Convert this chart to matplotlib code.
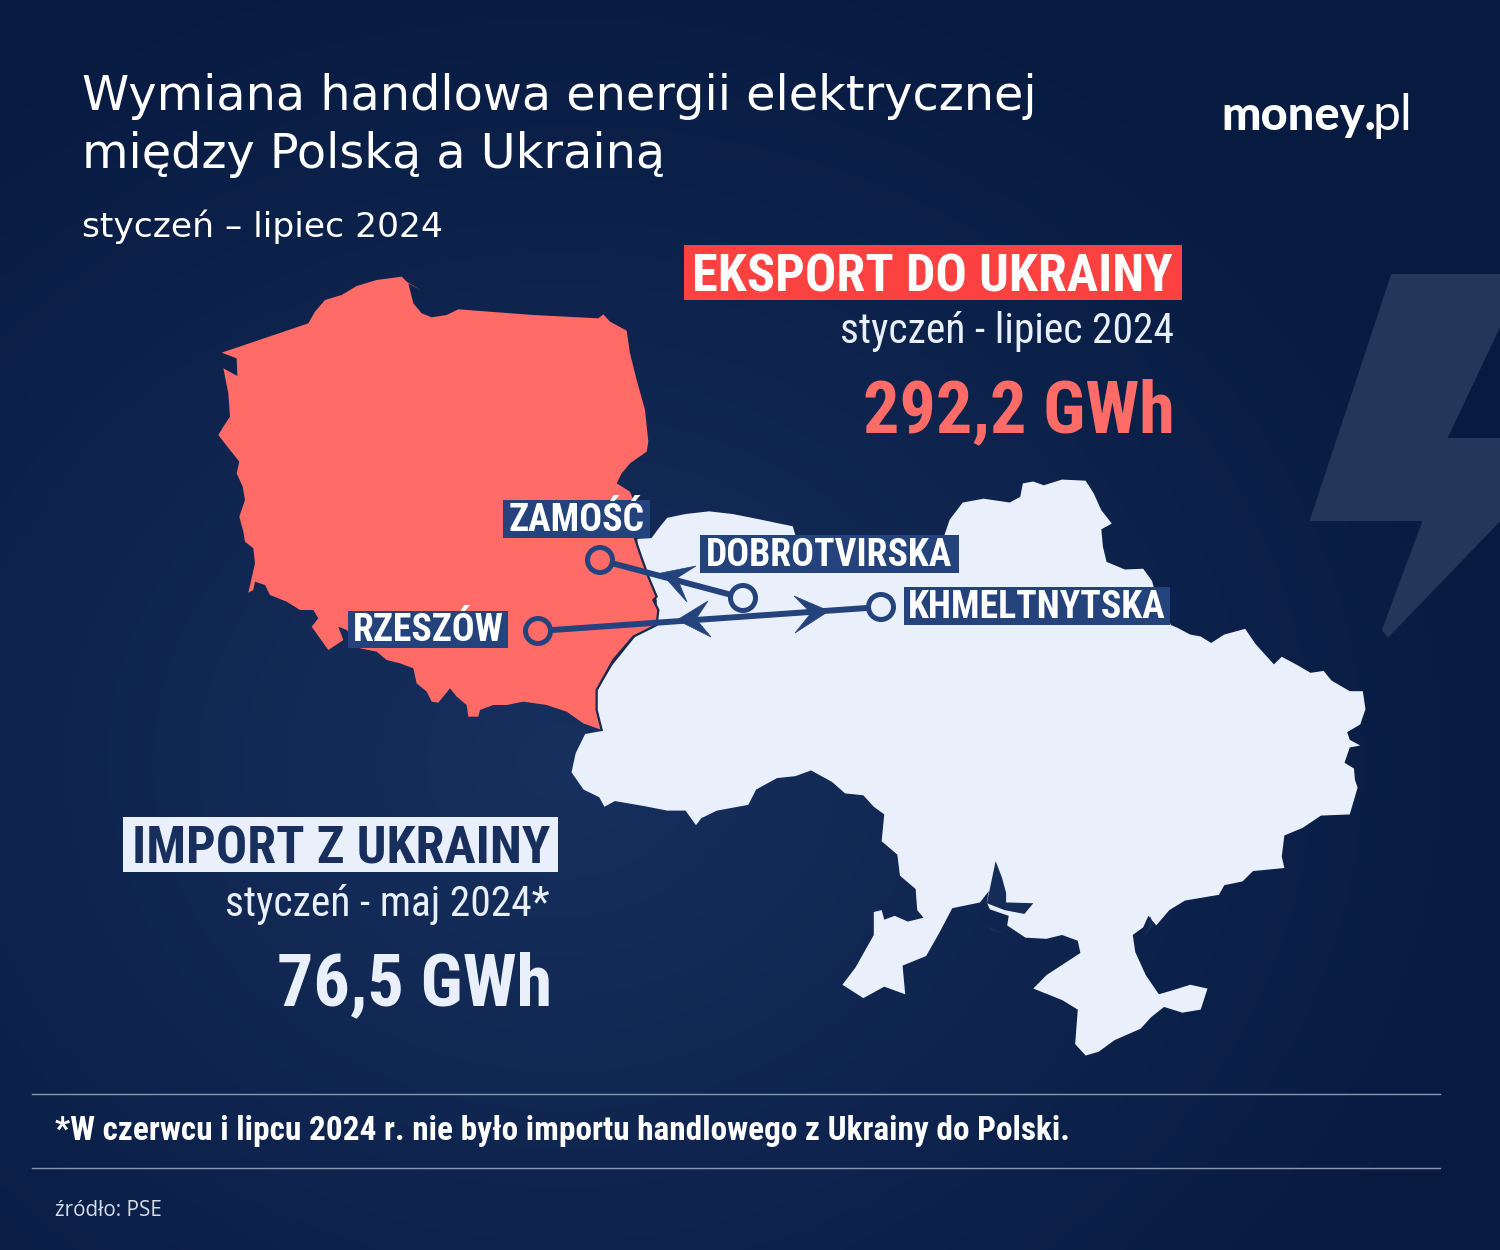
"""Polish-Ukrainian electricity trade infographic, money.pl style.

    python plot.py
"""

import numpy as np
import matplotlib
matplotlib.use("Agg")
import matplotlib.pyplot as plt
from matplotlib import font_manager
from matplotlib.patches import Circle, Polygon, Rectangle

poland_crop = [
    (65, 278), (325, 190), (345, 155), (375, 120), (425, 105), (470, 78), (530, 60), (605, 50),
    (620, 65), (665, 92), (625, 70), (640, 130), (665, 160), (695, 172), (740, 165), (775, 148),
    (1000, 165), (1195, 175), (1210, 163), (1230, 185), (1280, 212), (1290, 280), (1310, 360),
    (1335, 450), (1345, 545), (1340, 575), (1290, 610), (1265, 640), (1250, 670), (1290, 695),
    (1300, 720), (1305, 835), (1320, 880), (1345, 950), (1370, 1010), (1360, 1020), (1375, 1050),
    (1370, 1095), (1300, 1130), (1240, 1200), (1190, 1290), (1190, 1350), (1205, 1410),
    (1150, 1390), (1100, 1355), (1040, 1335), (970, 1325), (920, 1335), (880, 1335), (840, 1350),
    (835, 1370), (805, 1370), (800, 1335), (770, 1310), (750, 1285), (715, 1328), (695, 1325),
    (680, 1295), (650, 1270), (640, 1225), (600, 1210), (560, 1200), (530, 1175), (480, 1165),
    (440, 1110), (415, 1100), (430, 1140), (385, 1170), (335, 1100), (355, 1075), (340, 1050),
    (300, 1050), (260, 1025), (210, 1005), (195, 975), (165, 965), (160, 990), (145, 998),
    (165, 910), (160, 865), (135, 845), (130, 815), (118, 770), (135, 720), (128, 680),
    (110, 640), (118, 605), (90, 570), (55, 525), (70, 500), (90, 470), (85, 400), (70, 325),
    (112, 348), (110, 295),
]
ukraine_crop = [
    (148, 180), (175, 178), (190, 150), (205, 125), (240, 115), (285, 108), (330, 115), (385, 130),
    (420, 140), (445, 147), (450, 170), (735, 170), (745, 130), (770, 85), (810, 75), (860, 85),
    (880, 70), (885, 35), (905, 30), (925, 40), (960, 25), (1005, 28), (1020, 60), (1035, 105),
    (1055, 140), (1035, 155), (1038, 200), (1045, 240), (1080, 260), (1115, 258), (1132, 290),
    (1135, 305), (1168, 405), (1180, 412), (1205, 430), (1225, 435), (1245, 452), (1270, 430),
    (1310, 415), (1330, 455), (1365, 508), (1380, 488), (1410, 510), (1435, 530), (1460, 525),
    (1475, 550), (1510, 578), (1535, 578), (1540, 625), (1530, 665), (1505, 685), (1510, 705),
    (1530, 720), (1510, 725), (1500, 765), (1518, 780), (1520, 810), (1525, 830), (1510, 900),
    (1455, 903), (1420, 935), (1385, 955), (1380, 1010), (1385, 1040), (1325, 1048), (1305, 1075),
    (1270, 1085), (1260, 1110), (1195, 1125), (1165, 1150), (1140, 1190), (1125, 1165),
    (1115, 1195), (1095, 1215), (1100, 1260), (1120, 1320), (1145, 1370), (1175, 1358),
    (1205, 1345), (1238, 1355), (1225, 1410), (1190, 1418), (1155, 1403), (1130, 1430),
    (1110, 1460), (1060, 1490), (1030, 1520), (1005, 1530), (985, 1500), (990, 1410), (960, 1385),
    (905, 1355), (930, 1320), (995, 1262), (990, 1230), (960, 1215), (930, 1225), (890, 1222),
    (855, 1190), (858, 1165), (822, 1148), (816, 1130), (820, 1100), (803, 1130), (750, 1145),
    (725, 1210), (700, 1270), (655, 1295), (660, 1370), (620, 1350), (580, 1380), (540, 1345),
    (565, 1300), (600, 1215), (600, 1155), (615, 1150), (620, 1175), (640, 1165), (665, 1180),
    (695, 1170), (683, 1150), (680, 1095), (650, 1060), (645, 1005), (615, 970), (620, 900),
    (600, 880), (580, 850), (545, 845), (520, 815), (480, 785), (450, 800), (415, 805), (375, 835),
    (360, 875), (300, 890), (270, 910), (260, 928), (240, 890), (205, 890), (160, 878), (105, 865),
    (85, 880), (75, 855), (45, 835), (22, 790), (30, 740), (48, 690), (80, 682), (70, 640),
    (65, 590), (100, 510), (150, 425), (185, 385), (185, 340), (165, 270), (148, 220),
]
dnipro_crop = [
    (833, 1022), (845, 1065), (853, 1105), (853, 1130), (905, 1132), (888, 1160), (850, 1150),
    (816, 1132),
]
kinburn_crop = [(818, 1192), (855, 1212), (825, 1205)]
azov_crop = [(1128, 1165), (1135, 1190), (1115, 1222), (1125, 1195)]
bolt_outline = [
    (1392, 275), (1500, 275), (1500, 325), (1446, 439), (1500, 439), (1500, 520), (1388, 636),
    (1383, 630), (1424, 520), (1311, 520),
]

# power lines and stations
stations = ["ZAMOŚĆ", "DOBROTVIRSKA", "KHMELTNYTSKA", "RZESZÓW"]
station_x = [600, 743, 881, 538]
station_y = [560, 598, 607, 631]
station_fill = ["#ff6b66", "#e9f0fc", "#e9f0fc", "#ff6b66"]
label_boxes = [(503, 500, 147, 38), (700, 535, 259, 38), (904, 587, 266, 38), (348, 611, 160, 37)]
arrowheads = [
    [(661, 573), (696, 566), (677, 578), (687, 602)],
    [(677, 620), (708, 601), (696, 619), (711, 637)],
    [(829, 611), (794, 596), (811, 613), (795, 633)],
]

export_value = "292,2 GWh"
import_value = "76,5 GWh"

BLUE = "#24437c"
RED = "#ff6b66"
LIGHT = "#e9f0fc"
BORDER = "#16294f"


def font_or(*names):
    have = {f.name for f in font_manager.fontManager.ttflist}
    return [n for n in names if n in have] or ["DejaVu Sans"]


NARROW = font_or("Roboto Condensed", "Liberation Sans Narrow", "Roboto")


def crop_to_px(points, x0, y0, sx, sy):
    return [(x0 + x / sx, y0 + y / sy) for x, y in points]


def label(ax, x, y, s, px, **kw):
    kw.setdefault("color", "white")
    kw.setdefault("family", NARROW)
    ax.text(x, y, s, fontsize=px * 0.72, va="baseline", zorder=10, **kw)


def main():
    fig = plt.figure(figsize=(15, 12.5), dpi=100)
    ax = fig.add_axes([0, 0, 1, 1])
    ax.set_xlim(0, 1500)
    ax.set_ylim(1250, 0)
    ax.axis("off")

    # soft radial background, lightest behind the map
    yy, xx = np.mgrid[0:1250:5, 0:1500:5]
    d = np.clip(np.hypot((xx - 560) / 1000, (yy - 760) / 850), 0, 1)
    c0, c1 = np.array([0x17, 0x30, 0x5e]), np.array([0x07, 0x1a, 0x40])
    bg = (c0 + (c1 - c0) * d[..., None]) / 255
    ax.imshow(bg, extent=(0, 1500, 1250, 0), aspect="auto", interpolation="bilinear", zorder=0)

    ax.add_patch(Polygon(bolt_outline, closed=True, fc="#24365a", ec="#24365a", lw=1.5,
                         joinstyle="round", zorder=1))

    ukraine = crop_to_px(ukraine_crop, 560, 470, 1.912, 2.613)
    ax.add_patch(Polygon(ukraine, closed=True, fc=LIGHT, ec="none", zorder=2))
    for inlet in (dnipro_crop, kinburn_crop, azov_crop):
        shape = crop_to_px(inlet, 560, 470, 1.912, 2.613)
        ax.add_patch(Polygon(shape, closed=True, fc="#142c58", ec="none", zorder=2.1))

    poland = crop_to_px(poland_crop, 200, 260, 3, 3)
    ax.add_patch(Polygon(poland, closed=True, fc=RED, ec="none", zorder=3))
    bx, by = zip(*poland[31:43])
    ax.plot(bx, by, color=BORDER, lw=1.6, zorder=3.1)

    # connections, rings go on top of the line ends
    ax.plot([station_x[0], station_x[1]], [station_y[0], station_y[1]], color=BLUE, lw=4.3, zorder=4)
    ax.plot([station_x[3], station_x[2]], [station_y[3], station_y[2]], color=BLUE, lw=4.3, zorder=4)
    for head in arrowheads:
        ax.add_patch(Polygon(head, closed=True, fc=BLUE, ec=BLUE, lw=0.5, zorder=4))
    for x, y, fill in zip(station_x, station_y, station_fill):
        ax.add_patch(Circle((x, y), 12.5, fc=fill, ec=BLUE, lw=3.6, zorder=5))

    for (x, y, w, h), name in zip(label_boxes, stations):
        ax.add_patch(Rectangle((x, y), w, h, fc=BLUE, ec="none", zorder=6))
        label(ax, x + w / 2, y + h - 7, name, 37.8, ha="center", weight="bold")

    # heading
    head_font = font_or("DejaVu Sans")
    label(ax, 82, 110, "Wymiana handlowa energii elektrycznej", 47.7, family=head_font)
    label(ax, 82, 168, "między Polską a Ukrainą", 47.7, family=head_font)
    label(ax, 82, 237, "styczeń – lipiec 2024", 34.5, family=head_font)

    logo_font = font_or("Lato", "Open Sans")
    label(ax, 1221, 130, "money.", 47, family=logo_font, weight="black")
    label(ax, 1373, 130, "pl", 50, family=logo_font)

    # export block
    ax.add_patch(Rectangle((684, 245), 498, 55, fc="#fc4141", ec="none", zorder=6))
    label(ax, 932, 291, "EKSPORT DO UKRAINY", 52.4, ha="center", weight="bold")
    label(ax, 1174, 343, "styczeń - lipiec 2024", 41.5, ha="right", color=LIGHT)
    label(ax, 1175, 432, export_value, 72, ha="right", color=RED, weight="bold")

    # import block
    ax.add_patch(Rectangle((123, 817), 435, 55, fc=LIGHT, ec="none", zorder=6))
    label(ax, 341, 863, "IMPORT Z UKRAINY", 52.4, ha="center", color="#182f5e", weight="bold")
    label(ax, 550, 916, "styczeń - maj 2024*", 41.5, ha="right", color=LIGHT)
    label(ax, 552, 1005, import_value, 72, ha="right", color=LIGHT, weight="bold")

    # footer
    ax.plot([32, 1440], [1094, 1094], color="#8a97b0", lw=1, zorder=2)
    ax.plot([32, 1440], [1168, 1168], color="#8a97b0", lw=1, zorder=2)
    label(ax, 55, 1140, "*W czerwcu i lipcu 2024 r. nie było importu handlowego z Ukrainy do Polski.",
          33.25, weight="bold")
    label(ax, 55, 1216, "źródło: PSE", 20.7, family=font_or("Open Sans"), color="#d5dcea")

    fig.savefig("out.png", dpi=100)


if __name__ == "__main__":
    main()
